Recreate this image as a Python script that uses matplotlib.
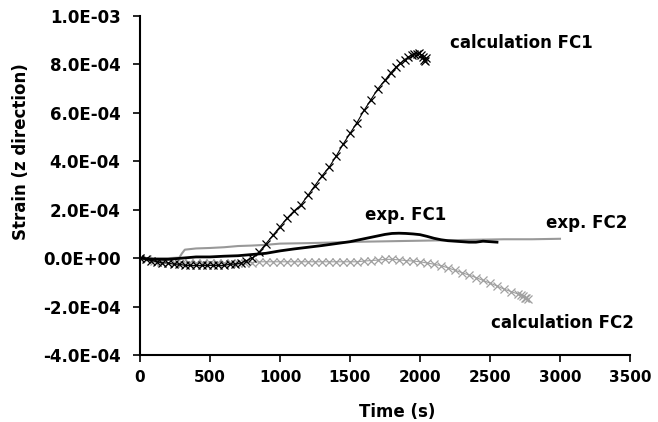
import matplotlib
matplotlib.use('Agg')
import matplotlib.pyplot as plt
from matplotlib.ticker import FuncFormatter

plt.rcParams['font.family'] = ['DejaVu Sans']
plt.rcParams['font.weight'] = 'bold'

# calculation FC1 (black crosses), strain in 1e-4
calc_fc1_t = [0, 40, 80, 120, 160, 200, 240, 280, 320, 360, 400, 440, 480, 520, 560,
              600, 640, 680, 720, 760, 800, 850, 900, 950, 1000, 1050, 1100, 1150,
              1200, 1250, 1300, 1350, 1400, 1450, 1500, 1550, 1600, 1650, 1700, 1750,
              1790, 1830, 1860, 1890, 1915, 1940, 1960, 1980, 1995, 2010, 2020, 2030,
              2035, 2040]
calc_fc1_s = [0, -0.05, -0.1, -0.15, -0.2, -0.2, -0.25, -0.25, -0.3, -0.3, -0.3, -0.3,
              -0.3, -0.3, -0.3, -0.3, -0.25, -0.25, -0.2, -0.1, 0.0, 0.25, 0.6, 0.95,
              1.3, 1.65, 1.95, 2.2, 2.6, 3.0, 3.4, 3.75, 4.2, 4.7, 5.15, 5.6, 6.1, 6.55,
              7.0, 7.35, 7.65, 7.9, 8.05, 8.2, 8.3, 8.38, 8.42, 8.45, 8.47, 8.4, 8.3,
              8.2, 8.15, 8.25]

# calculation FC2 (grey crosses)
calc_fc2_t = [0, 50, 100, 150, 200, 250, 300, 350, 400, 450, 500, 550, 600, 650, 700,
              750, 800, 850, 900, 950, 1000, 1050, 1100, 1150, 1200, 1250, 1300, 1350,
              1400, 1450, 1500, 1550, 1600, 1650, 1700, 1750, 1800, 1850, 1900, 1950,
              2000, 2050, 2100, 2150, 2200, 2250, 2300, 2350, 2400, 2450, 2500, 2550,
              2600, 2650, 2700, 2720, 2735, 2750, 2760, 2770]
calc_fc2_s = [0, -0.05, -0.1, -0.15, -0.2, -0.2, -0.2, -0.2, -0.2, -0.2, -0.2, -0.2,
              -0.2, -0.2, -0.2, -0.2, -0.18, -0.15, -0.15, -0.15, -0.15, -0.15, -0.15,
              -0.15, -0.15, -0.15, -0.15, -0.15, -0.15, -0.15, -0.15, -0.15, -0.12,
              -0.1, -0.08, -0.05, -0.05, -0.07, -0.1, -0.12, -0.15, -0.2, -0.25, -0.31,
              -0.4, -0.5, -0.6, -0.7, -0.8, -0.92, -1.03, -1.15, -1.28, -1.38, -1.48,
              -1.53, -1.58, -1.63, -1.66, -1.7]

# exp. FC1 (thick black line)
exp_fc1_t = [0, 100, 200, 300, 400, 500, 600, 700, 800, 900, 1000, 1100, 1200, 1300,
             1400, 1500, 1600, 1700, 1750, 1800, 1850, 1900, 1950, 2000, 2050, 2100,
             2150, 2200, 2250, 2300, 2350, 2400, 2450, 2500, 2550]
exp_fc1_s = [0, -0.05, -0.05, 0.0, 0.05, 0.05, 0.08, 0.1, 0.15, 0.2, 0.3, 0.38, 0.45,
             0.52, 0.6, 0.68, 0.8, 0.92, 0.98, 1.02, 1.03, 1.02, 1.0, 0.97, 0.9, 0.82,
             0.76, 0.72, 0.7, 0.68, 0.66, 0.66, 0.7, 0.68, 0.66]

# exp. FC2 (grey line)
exp_fc2_t = [0, 100, 200, 280, 300, 320, 400, 500, 600, 700, 800, 900, 1000, 1200,
             1400, 1600, 1800, 2000, 2200, 2400, 2600, 2800, 3000]
exp_fc2_s = [0, 0.0, 0.0, 0.02, 0.2, 0.35, 0.4, 0.42, 0.45, 0.5, 0.52, 0.55, 0.6, 0.62,
             0.65, 0.68, 0.7, 0.72, 0.74, 0.76, 0.78, 0.78, 0.8]

yticks = [-4e-4, -2e-4, 0, 2e-4, 4e-4, 6e-4, 8e-4, 1e-3]
xticks = [0, 500, 1000, 1500, 2000, 2500, 3000, 3500]


def sc(vals):
    return [v * 1e-4 for v in vals]


fig = plt.figure(figsize=(6.58, 4.22), dpi=100)
ax = fig.add_axes([0.2128, 0.1588, 0.7446, 0.8032])

grey = '#a0a0a0'
ax.plot(exp_fc2_t, sc(exp_fc2_s), color='#999999', lw=1.5, zorder=2)
ax.plot(calc_fc2_t, sc(calc_fc2_s), color=grey, lw=0.8, marker='x', ms=6, mew=0.9,
        zorder=3)
ax.plot(calc_fc1_t, sc(calc_fc1_s), color='black', lw=0.8, marker='x', ms=6, mew=0.9,
        zorder=4)
ax.plot(exp_fc1_t, sc(exp_fc1_s), color='black', lw=2.0, zorder=5)

fs = 12
ax.text(2214, 8.88e-4, 'calculation FC1', fontsize=fs, fontweight='bold', va='center')
ax.text(1607, 1.78e-4, 'exp. FC1', fontsize=fs, fontweight='bold', va='center')
ax.text(2900, 1.45e-4, 'exp. FC2', fontsize=fs, fontweight='bold', va='center')
ax.text(2507, -2.69e-4, 'calculation FC2', fontsize=fs, fontweight='bold', va='center')

ax.set_xlim(0, 3500)
ax.set_ylim(-4e-4, 1e-3)
ax.set_xticks(xticks)
ax.set_yticks(yticks)
ax.yaxis.set_major_formatter(FuncFormatter(lambda v, p: '%.1E' % v if abs(v) > 1e-12 else '0.0E+00'))
ax.tick_params(axis='y', labelsize=12, width=1.2, length=5, pad=9, direction='out')
ax.tick_params(axis='x', labelsize=11, width=1.2, length=5, pad=6, direction='out')
for lab in ax.get_xticklabels() + ax.get_yticklabels():
    lab.set_fontweight('bold')

ax.spines['top'].set_visible(False)
ax.spines['right'].set_visible(False)
ax.spines['left'].set_linewidth(1.5)
ax.spines['bottom'].set_linewidth(1.5)

ax.set_xlabel('Time (s)', fontsize=fs, fontweight='bold')
ax.set_ylabel('Strain (z direction)', fontsize=fs, fontweight='bold')
ax.xaxis.set_label_coords(0.525, -0.142)
ax.yaxis.set_label_coords(-0.225, 0.6)

fig.savefig('out.png', dpi=100)
